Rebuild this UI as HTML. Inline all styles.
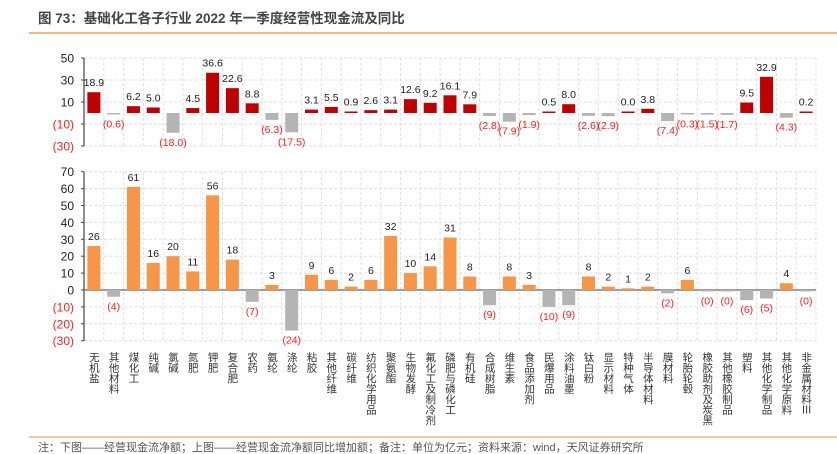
<!DOCTYPE html>
<html><head><meta charset="utf-8"><style>
body{margin:0;background:#fff;width:837px;height:454px;overflow:hidden;font-family:"Liberation Sans","Noto Sans CJK SC",sans-serif;position:relative}
svg{position:absolute;left:0;top:0}
.cat{position:absolute;top:352px;writing-mode:vertical-rl;text-orientation:upright;white-space:nowrap;font-size:10.5px;line-height:12px;width:12px;color:#333;letter-spacing:0}
</style></head><body>
<svg id="c" width="837" height="454" xmlns="http://www.w3.org/2000/svg">
<text x="38" y="23" font-size="13.5" font-weight="bold" fill="#444" font-family="Liberation Sans, Noto Sans CJK SC, sans-serif">图 73：基础化工各子行业 2022 年一季度经营性现金流及同比</text>
<line x1="29" y1="33" x2="837" y2="33" stroke="#f0a060" stroke-width="1.5"/>
<line x1="29" y1="437" x2="837" y2="437" stroke="#f5b888" stroke-width="1.5"/>
<text x="38" y="451" font-size="11" fill="#555" font-family="Liberation Sans, Noto Sans CJK SC, sans-serif">注：下图——经营现金流净额；上图——经营现金流净额同比增加额；备注：单位为亿元；资料来源：wind，天风证券研究所</text>
</svg>
<div id="labels"></div>
<script>
const categories=["无机盐","其他材料","煤化工","纯碱","氯碱","氮肥","钾肥","复合肥","农药","氨纶","涤纶","粘胶","其他纤维","碳纤维","纺织化学用品","聚氨酯","生物发酵","氟化工及制冷剂","磷肥与磷化工","有机硅","合成树脂","维生素","食品添加剂","民爆用品","涂料油墨","钛白粉","显示材料","特种气体","半导体材料","膜材料","轮胎轮毂","橡胶助剂及炭黑","其他橡胶制品","塑料","其他化学制品","其他化学原料","非金属材料Ⅲ"];
const yoyValues=[18.9,-0.6,6.2,5.0,-18.0,4.5,36.6,22.6,8.8,-6.3,-17.5,3.1,5.5,0.9,2.6,3.1,12.6,9.2,16.1,7.9,-2.8,-7.9,-1.9,0.5,8.0,-2.6,-2.9,0.0,3.8,-7.4,-0.3,-1.5,-1.7,9.5,32.9,-4.3,0.2];
const netValues=[26,-4,61,16,20,11,56,18,-7,3,-24,9,6,2,6,32,10,14,31,8,-9,8,3,-10,-9,8,2,1,2,-2,6,-0.3,-0.2,-6,-5,4,-0.2];
const topTicks=[50,30,10,-10,-30];
const bottomTicks=[70,60,50,40,30,20,10,0,-10,-20,-30];
const NS="http://www.w3.org/2000/svg";
const svg=document.getElementById('c');
const X0=84,X1=816,n=categories.length,bw=(X1-X0)/n;
const xC=i=>X0+bw*(i+0.5);
const yTop=v=>113-v*1.1;
const yBot=v=>290-v*1.69;
function el(t,a){const e=document.createElementNS(NS,t);for(const k in a)e.setAttribute(k,a[k]);svg.appendChild(e);return e;}
function fmt(v,d){return v<0?"("+Math.abs(v).toFixed(d)+")":v.toFixed(d);}
function panel(vals,ys,ticks,top,bot,pos,dec,zeroLine,pfx){
  for(let i=0;i<=n;i++){const g=el('line',{x1:X0+bw*i,x2:X0+bw*i,y1:top,y2:bot,stroke:'#e0e0e0','stroke-dasharray':'3,2'});
  
  }
  ticks.forEach(t=>{const y=ys(t);
    const g=el('line',{x1:X0,x2:X1,y1:y,y2:y,stroke:'#e0e0e0','stroke-dasharray':'3,2'});
    
    
    const tk=el('line',{x1:X0-3,x2:X0,y1:y,y2:y,stroke:'#444'});
    
    
    const tx=el('text',{x:X0-10,y:y+4.5,'text-anchor':'end','font-size':'12',fill:t<0?'#ff2020':'#222'});
    tx.textContent=t<0?"("+Math.abs(t)+")":String(t);
    
    
  });
  const ax=el('line',{x1:X0,x2:X0,y1:top,y2:bot,stroke:'#444','stroke-width':1.2});
  
  
  if(zeroLine){const z=el('line',{x1:X0,x2:X1,y1:ys(0),y2:ys(0),stroke:'#666','stroke-width':1.2});
  
  }
  vals.forEach((v,i)=>{
    const w=13,x=xC(i)-w/2,y0=ys(0),y=ys(v);
    let h=Math.abs(y-y0);const neg=v<0;
    if(h<1.5)h=1.5;
    const r=el('rect',{x:x,y:neg?y0:y0-h,width:w,height:h,fill:neg?'#b4b4b4':pos});
    
    
    const t=el('text',{x:xC(i),y:neg?y0+h+13:y0-h-6,'text-anchor':'middle','font-size':'10.5',fill:neg?'#ff2020':'#222'});
    t.textContent=fmt(v,dec);
    
    
  });
}
panel(yoyValues,yTop,topTicks,58,146,'#c00000',1,false,'yoy');
panel(netValues,yBot,bottomTicks,172,341,'#f79646',0,true,'net');
const lab=document.getElementById('labels');
categories.forEach((c,i)=>{
  const d=document.createElement('div');
  d.className='cat';
  d.style.left=(xC(i)-6)+'px';
  d.textContent=c;
  
  
  lab.appendChild(d);
});
</script>
</body></html>
